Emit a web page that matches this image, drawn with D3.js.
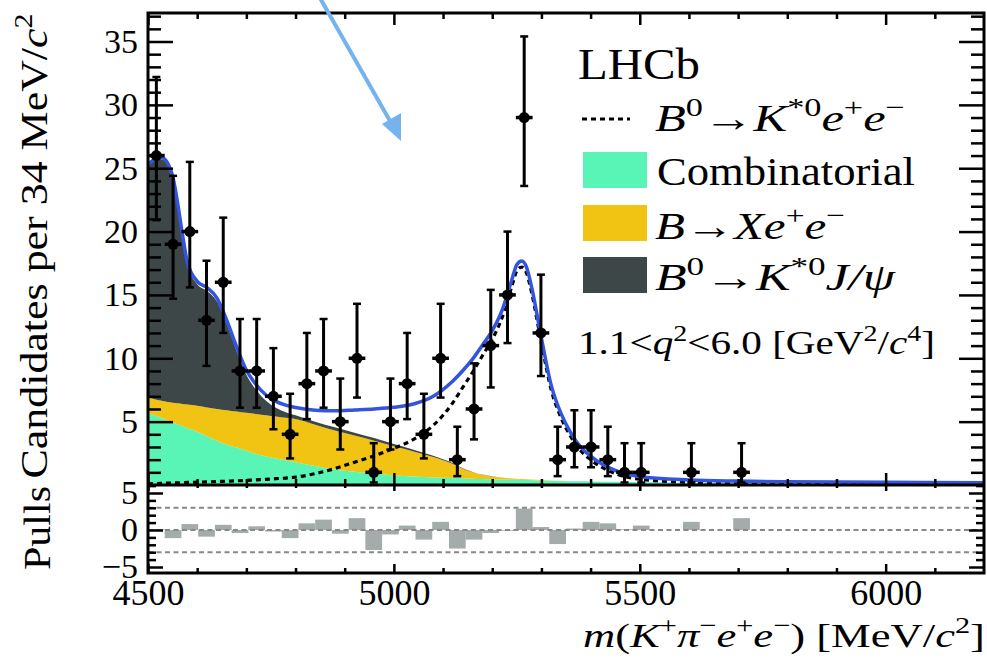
<!DOCTYPE html>
<html>
<head>
<meta charset="utf-8">
<script src="https://cdn.jsdelivr.net/npm/d3@7"></script>
<style>
  body { margin: 0; background: #fff; }
  svg text { font-family: "Liberation Serif", "Times New Roman", serif; }
</style>
</head>
<body>
<div id="viz"></div>
<script>
// bin centres (34 MeV bins starting at 4500)
const binCenters = [4517, 4551, 4585, 4619, 4653, 4687, 4721, 4755, 4789, 4823, 4857, 4891,
  4925, 4959, 4993, 5027, 5061, 5095, 5129, 5163, 5197, 5231, 5265, 5299, 5333, 5367,
  5401, 5435, 5469, 5503, 5537, 5571, 5605, 5639, 5673, 5707];
const counts = [26, 19, 20, 13, 16, 9, 9, 7, 4, 8, 9, 5, 10, 1, 5, 8, 4, 10, 2, 6, 11, 15,
  29, 12, 2, 3, 3, 2, 1, 1, 0, 0, 1, 0, 0, 1];
const errLo = [20.9, 14.7, 15.6, 9.4, 12.0, 6.1, 6.1, 4.4, 2.1, 5.2, 6.1, 2.8, 6.9, 0.2, 2.8,
  5.2, 2.1, 6.9, 0.7, 3.6, 7.7, 11.2, 23.6, 8.6, 0.7, 1.4, 1.4, 0.7, 0.2, 0.2, 0, 0, 0.2, 0, 0, 0.2];
const errHi = [32.2, 24.4, 25.5, 17.7, 21.1, 13.1, 13.1, 10.8, 7.2, 12.0, 13.1, 8.4, 14.3, 3.3,
  8.4, 12.0, 7.2, 14.3, 4.6, 9.6, 15.4, 20.0, 35.4, 16.6, 4.6, 5.9, 5.9, 4.6, 3.3, 3.3, 0, 0, 3.3, 0, 0, 3.3];
const pulls = [0.1, -1.1, 0.8, -0.9, 0.7, -0.4, 0.5, -0.2, -1.1, 0.9, 1.4, -0.5, 1.6, -2.7, -0.6,
  0.6, -1.3, 1.1, -2.5, -1.3, -0.4, -0.1, 2.9, 0.4, -1.9, 0.2, 1.1, 0.9, 0.1, 0.6, 0, 0, 1.1, 0, 0, 1.6];

// fit components sampled in mass
const mGrid = [4500, 4510, 4520, 4530, 4540, 4550, 4560, 4570, 4580, 4600, 4620, 4640, 4660,
  4680, 4700, 4720, 4740, 4760, 4780, 4800, 4840, 4880, 4920, 4960, 5000, 5040, 5080, 5120,
  5140, 5160, 5180, 5200, 5220, 5240, 5250, 5260, 5270, 5280, 5300, 5320, 5340, 5360, 5380,
  5400, 5450, 5500, 5600, 5700, 5800, 6000, 6200];
const combVals = [5.7, 5.55, 5.4, 5.25, 5.1, 4.95, 4.8, 4.65, 4.5, 4.2, 3.85, 3.5, 3.2, 2.95, 2.7,
  2.45, 2.25, 2.1, 1.95, 1.8, 1.5, 1.22, 1.05, 0.9, 0.75, 0.67, 0.6, 0.55, 0.53, 0.5, 0.48, 0.46,
  0.44, 0.42, 0.41, 0.4, 0.39, 0.38, 0.36, 0.34, 0.32, 0.3, 0.29, 0.28, 0.25, 0.22, 0.18, 0.15,
  0.12, 0.09, 0.06];
const xeeVals = [1.2, 1.25, 1.3, 1.37, 1.45, 1.55, 1.65, 1.75, 1.85, 2.05, 2.27, 2.5, 2.7, 2.85,
  3.0, 3.15, 3.25, 3.3, 3.35, 3.4, 3.25, 3.08, 2.85, 2.6, 2.3, 1.98, 1.6, 1.1, 0.75, 0.5, 0.33,
  0.22, 0.15, 0.1, 0.08, 0.07, 0.06, 0.05, 0.03, 0.02, 0.01, 0, 0, 0, 0, 0, 0, 0, 0, 0, 0];
const jpsiVals = [18.3, 18.7, 19.0, 19.05, 18.7, 17.75, 15.7, 13.2, 11.05, 9.6, 9.2, 8.5, 6.8, 4.8,
  3.0, 1.9, 1.15, 0.7, 0.45, 0.3, 0.25, 0.25, 0.22, 0.2, 0.18, 0.14, 0.1, 0.06, 0.04, 0.03, 0.02,
  0.01, 0, 0, 0, 0, 0, 0, 0, 0, 0, 0, 0, 0, 0, 0, 0, 0, 0, 0, 0];
const sigVals = [0.1, 0.11, 0.12, 0.13, 0.15, 0.16, 0.17, 0.18, 0.2, 0.22, 0.25, 0.27, 0.3, 0.33,
  0.37, 0.41, 0.45, 0.5, 0.55, 0.62, 0.9, 1.3, 1.8, 2.3, 2.9, 3.6, 4.7, 6.5, 7.7, 8.9, 10.2, 11.5,
  13.2, 15.7, 16.9, 17.2, 16.7, 15.2, 11.2, 7.5, 5.3, 3.8, 2.7, 2.0, 0.9, 0.45, 0.22, 0.16, 0.14,
  0.12, 0.12];

const xMajor = [4500, 5000, 5500, 6000];
const yMajor = [5, 10, 15, 20, 25, 30, 35];
const pMajor = [-5, 0, 5];
const pLines = [-3, 0, 3];

const colors = { comb: "#58f5b6", xee: "#f1c312", jpsi: "#3d4747", total: "#3355de", pull: "#a3abab" };

const width = 987, height = 659;
const svg = d3.select("#viz").append("svg")
  .attr("width", width).attr("height", height)
  .style("background-color", "white");

const x = d3.scaleLinear().domain([4500, 6200]).range([148, 984]);
const y = d3.scaleLinear().domain([0, 37.25]).range([485, 13]);
const yp = d3.scaleLinear().domain([-5.81, 6.08]).range([573, 485]);

svg.append("clipPath").attr("id", "clipMain")
  .append("rect").attr("x", 148).attr("y", 13).attr("width", 836).attr("height", 472);

const rows = mGrid.map((m, i) => ({
  m, comb: combVals[i], xee: xeeVals[i], jpsi: jpsiVals[i], sig: sigVals[i]
}));

const stack = d3.stack().keys(["comb", "xee", "jpsi"]);
const layers = stack(rows);

const plot = svg.append("g").attr("clip-path", "url(#clipMain)");

const area = d3.area()
  .x(d => x(d.data.m))
  .y0(d => y(d[0]))
  .y1(d => y(d[1]))
  .curve(d3.curveMonotoneX);

plot.selectAll("path.layer")
  .data(layers)
  .enter().append("path")
  .attr("class", "layer")
  .attr("d", area)
  .attr("fill", d => colors[d.key]);

const line = d3.line().curve(d3.curveMonotoneX);

// signal (dotted)
plot.append("path")
  .attr("d", line(rows.map(r => [x(r.m), y(r.sig)])))
  .attr("fill", "none").attr("stroke", "#000")
  .attr("stroke-width", 3.2).attr("stroke-dasharray", "5,4");

// total fit
plot.append("path")
  .attr("d", line(rows.map(r => [x(r.m), y(r.comb + r.xee + r.jpsi + r.sig)])))
  .attr("fill", "none").attr("stroke", colors.total)
  .attr("stroke-width", 3.5);

// data points
const pts = binCenters.map((c, i) => ({ c, n: counts[i], lo: errLo[i], hi: errHi[i] }))
  .filter(d => d.n > 0);

const pg = svg.append("g").attr("stroke", "#000");
pts.forEach(d => {
  pg.append("line").attr("x1", x(d.c)).attr("x2", x(d.c))
    .attr("y1", y(d.lo)).attr("y2", y(d.hi)).attr("stroke-width", 3);
  [d.lo, d.hi].forEach(v => {
    pg.append("line").attr("x1", x(d.c) - 4).attr("x2", x(d.c) + 4)
      .attr("y1", y(v)).attr("y2", y(v)).attr("stroke-width", 2.5);
  });
  pg.append("line").attr("x1", x(d.c - 17)).attr("x2", x(d.c + 17))
    .attr("y1", y(d.n)).attr("y2", y(d.n)).attr("stroke-width", 3.5);
  pg.append("circle").attr("cx", x(d.c)).attr("cy", y(d.n)).attr("r", 5.5)
    .attr("fill", "#000").attr("stroke", "none");
});

// pulls panel
svg.append("g").selectAll("rect")
  .data(binCenters.map((c, i) => ({ c, p: pulls[i] })).filter(d => d.p !== 0))
  .enter().append("rect")
  .attr("x", d => x(d.c - 17))
  .attr("width", d => x(d.c + 17) - x(d.c - 17))
  .attr("y", d => yp(Math.max(0, d.p)))
  .attr("height", d => Math.abs(yp(d.p) - yp(0)))
  .attr("fill", colors.pull);

svg.append("g").selectAll("line")
  .data(pLines).enter().append("line")
  .attr("x1", 148).attr("x2", 984)
  .attr("y1", d => yp(d)).attr("y2", d => yp(d))
  .attr("stroke", "#888").attr("stroke-width", 2)
  .attr("stroke-dasharray", "5,3.5");

// axes (ticks inside the frame)
function styleAxis(g) {
  g.select(".domain").remove();
  g.selectAll(".tick line").attr("stroke", "#000").attr("stroke-width", 2.5);
  g.selectAll("text").attr("font-family", "Liberation Serif, serif").attr("fill", "#000");
}
const range = (a, b) => d3.range(a, b + 1);
const yMinor = range(1, 37).filter(v => v % 5 !== 0);
const pMinor = range(-5, 6).filter(v => v % 5 !== 0);
const xMinor = d3.range(4600, 6200, 100).filter(v => v % 500 !== 0);

// main y, left
svg.append("g").attr("transform", "translate(148,0)")
  .call(d3.axisLeft(y).tickValues(yMajor).tickSize(-25).tickPadding(10))
  .call(styleAxis).attr("font-size", 34);
svg.append("g").attr("transform", "translate(148,0)")
  .call(d3.axisLeft(y).tickValues(yMinor).tickSize(-13).tickFormat(""))
  .call(styleAxis);
// main y, right
svg.append("g").attr("transform", "translate(984,0)")
  .call(d3.axisRight(y).tickValues(yMajor).tickSize(-25).tickFormat(""))
  .call(styleAxis);
svg.append("g").attr("transform", "translate(984,0)")
  .call(d3.axisRight(y).tickValues(yMinor).tickSize(-13).tickFormat(""))
  .call(styleAxis);
// pulls y
svg.append("g").attr("transform", "translate(148,0)")
  .call(d3.axisLeft(yp).tickValues(pMajor).tickSize(-15).tickPadding(10)
    .tickFormat(d => d < 0 ? "\u2212" + Math.abs(d) : d))
  .call(styleAxis).attr("font-size", 34);
svg.append("g").attr("transform", "translate(148,0)")
  .call(d3.axisLeft(yp).tickValues(pMinor).tickSize(-8).tickFormat(""))
  .call(styleAxis);
svg.append("g").attr("transform", "translate(984,0)")
  .call(d3.axisRight(yp).tickValues(pMajor).tickSize(-15).tickFormat(""))
  .call(styleAxis);
svg.append("g").attr("transform", "translate(984,0)")
  .call(d3.axisRight(yp).tickValues(pMinor).tickSize(-8).tickFormat(""))
  .call(styleAxis);
// x ticks: main bottom, main top, pulls bottom, pulls top
[[485, 12, 6, "bottom"], [13, 12, 6, "top"], [573, 9, 5, "bottom"], [485, 6, 3, "top"]].forEach(([yy, big, small, side]) => {
  const ax = side === "bottom" ? d3.axisBottom : d3.axisTop;
  svg.append("g").attr("transform", `translate(0,${yy})`)
    .call(ax(x).tickValues(xMajor).tickSize(-big).tickFormat(""))
    .call(styleAxis);
  svg.append("g").attr("transform", `translate(0,${yy})`)
    .call(ax(x).tickValues(xMinor).tickSize(-small).tickFormat(""))
    .call(styleAxis);
});
// x labels
svg.append("g").attr("transform", "translate(0,573)")
  .call(d3.axisBottom(x).tickValues(xMajor).tickSize(0).tickPadding(6).tickFormat(d3.format("d")))
  .call(styleAxis).attr("font-size", 36);

// frames
svg.append("rect").attr("x", 148).attr("y", 13).attr("width", 836).attr("height", 560)
  .attr("fill", "none").attr("stroke", "#000").attr("stroke-width", 3);
svg.append("line").attr("x1", 148).attr("x2", 984).attr("y1", 485).attr("y2", 485)
  .attr("stroke", "#000").attr("stroke-width", 3);

// rich text helper: parts = [text, kind] with kind "" | "i" | "sup"
function rich(g, parts, fs) {
  let up = false;
  parts.forEach(([t, k]) => {
    const ts = g.append("tspan").text(t);
    if (k === "sup") {
      ts.attr("font-size", fs * 0.68);
      if (!up) { ts.attr("dy", -fs * 0.4); up = true; }
    } else {
      if (up) { ts.attr("dy", fs * 0.4); up = false; }
      if (k === "i") ts.attr("font-style", "italic");
    }
  });
  return g;
}
function label(xp, yp_, parts, fs, len, opts = {}) {
  const t = svg.append("text").attr("x", xp).attr("y", yp_)
    .attr("font-size", fs).attr("fill", "#000");
  if (opts.anchor) t.attr("text-anchor", opts.anchor);
  if (opts.rotate) t.attr("transform", `rotate(-90,${xp},${yp_})`);
  rich(t, parts, fs);
  if (len) t.attr("textLength", len).attr("lengthAdjust", "spacingAndGlyphs");
  return t;
}

// legend
label(578, 79, [["LHCb", ""]], 44, 122);
svg.append("line").attr("x1", 582).attr("x2", 630).attr("y1", 119).attr("y2", 119)
  .attr("stroke", "#000").attr("stroke-width", 3.2).attr("stroke-dasharray", "5,4");
label(655, 131, [["B", "i"], ["0", "sup"], ["\u2192", ""], ["K", "i"], ["*0", "sup"],
  ["e", "i"], ["+", "sup"], ["e", "i"], ["\u2212", "sup"]], 38, 250);
const swatches = [["comb", 152], ["xee", 205], ["jpsi", 257]];
swatches.forEach(([k, yy]) => {
  svg.append("rect").attr("x", 583).attr("y", yy).attr("width", 64).attr("height", 36)
    .attr("fill", colors[k]);
});
label(657, 185, [["Combinatorial", ""]], 40, 258);
label(655, 239, [["B", "i"], ["\u2192", ""], ["X", "i"], ["e", "i"], ["+", "sup"],
  ["e", "i"], ["\u2212", "sup"]], 38, 190);
label(655, 290, [["B", "i"], ["0", "sup"], ["\u2192", ""], ["K", "i"], ["*0", "sup"],
  ["J/\u03c8", "i"]], 38, 240);
label(578, 354, [["1.1<", ""], ["q", "i"], ["2", "sup"], ["<6.0 [GeV", ""], ["2", "sup"],
  ["/", ""], ["c", "i"], ["4", "sup"], ["]", ""]], 33, 357);

// axis titles
label(47, 246, [["Candidates per 34 MeV/", ""], ["c", "i"], ["2", "sup"]], 38, 465,
  { anchor: "middle", rotate: true });
label(50, 528, [["Pulls", ""]], 38, 84, { anchor: "middle", rotate: true });
label(985, 647, [["m", "i"], ["(", ""], ["K", "i"], ["+", "sup"], ["\u03c0", "i"], ["\u2212", "sup"],
  ["e", "i"], ["+", "sup"], ["e", "i"], ["\u2212", "sup"], [") [MeV/", ""], ["c", "i"], ["2", "sup"],
  ["]", ""]], 34, 402, { anchor: "end" });

// annotation arrow
const arrow = svg.append("g").attr("stroke", "#74b3ee").attr("fill", "#74b3ee");
arrow.append("line").attr("x1", 320).attr("y1", -2).attr("x2", 394).attr("y2", 128)
  .attr("stroke-width", 4);
arrow.append("path").attr("d", "M401,141 L382,124 L401,113 Z").attr("stroke", "none");
</script>
</body>
</html>
